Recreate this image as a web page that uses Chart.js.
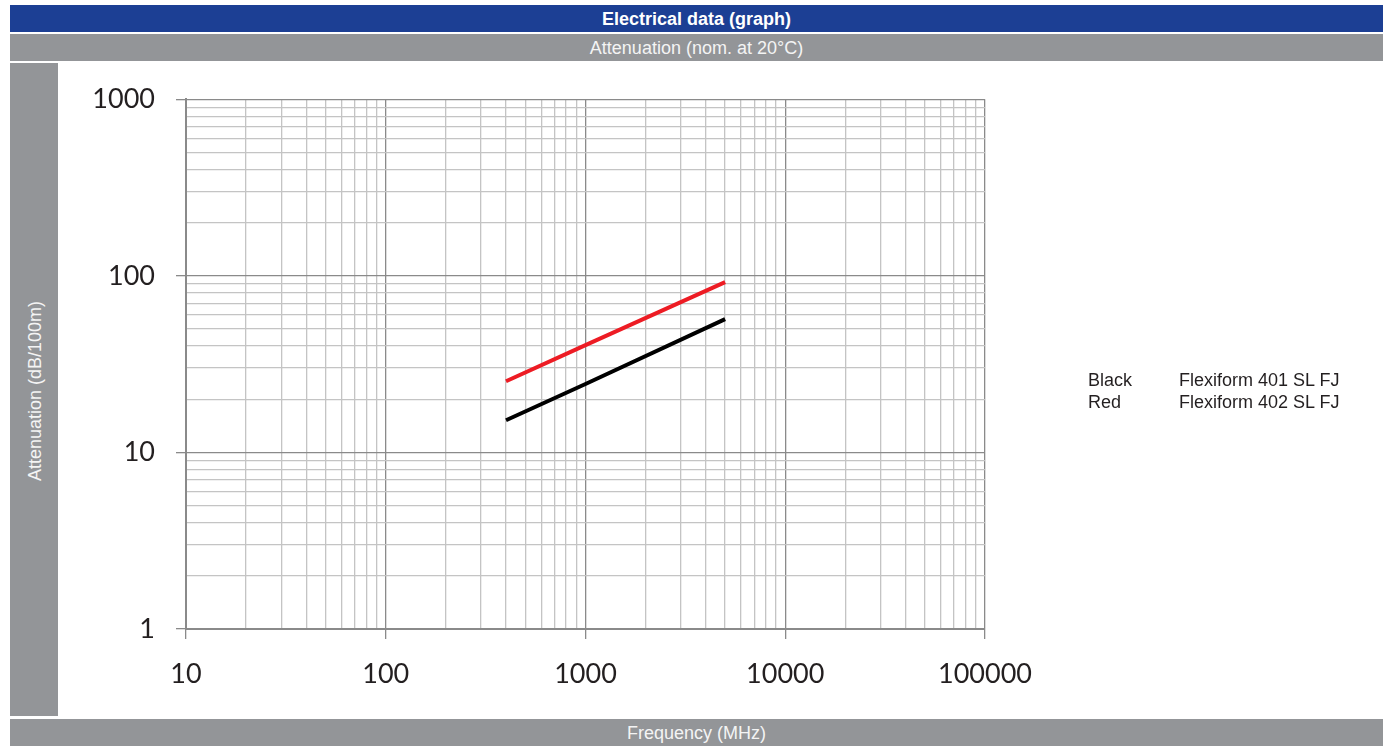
<!DOCTYPE html>
<html>
<head>
<meta charset="utf-8">
<script src="https://cdn.jsdelivr.net/npm/chart.js@4"></script>
<style>
  body { margin: 0; background: #fff; width: 1389px; height: 747px; position: relative; overflow: hidden; font-family: "Liberation Sans", Arial, sans-serif; }
  .bar { position: absolute; color: #fff; text-align: center; font-size: 18px; }
  #head { left: 10px; top: 5px; width: 1373px; height: 27px; line-height: 28px; background: #1c3f94; font-weight: bold; }
  #sub { left: 10px; top: 34px; width: 1373px; height: 27px; line-height: 28px; background: #939598; color: #f4f4f4; }
  #side { left: 10px; top: 63px; width: 48px; height: 653px; background: #939598; color: #f4f4f4; }
  #side span { position: absolute; left: 25px; top: 328px; transform: translate(-50%, -50%) rotate(-90deg); white-space: nowrap; }
  #foot { left: 10px; top: 719px; width: 1373px; height: 27px; line-height: 28px; background: #939598; color: #f4f4f4; }
  #wrap { position: absolute; left: 58px; top: 62px; width: 1325px; height: 656px; }
  .leg { position: absolute; font-size: 18px; color: #231f20; line-height: 22px; }
</style>
</head>
<body>
<div class="bar" id="head">Electrical data (graph)</div>
<div class="bar" id="sub">Attenuation (nom. at 20°C)</div>
<div class="bar" id="side"><span>Attenuation (dB/100m)</span></div>
<div class="bar" id="foot">Frequency (MHz)</div>
<div id="wrap"><canvas id="chart" width="1325" height="656"></canvas></div>
<div class="leg" id="legNames" style="left:1088px; top:369px;"></div>
<div class="leg" id="legLabels" style="left:1179px; top:369px;"></div>
<script>
// frequencies in MHz
let freqs = [400, 1000, 5000];

// attenuation dB/100m
let black401 = [15.2, 24.4, 56.8];
let red402 = [25.3, 40.5, 92];

let seriesNames = ['Black', 'Red'];
let seriesLabels = ['Flexiform 401 SL FJ', 'Flexiform 402 SL FJ'];

// decade tick labels
let xDecades = [10, 100, 1000, 10000, 100000];
let yDecades = [1, 10, 100, 1000];

document.querySelector('#legNames').innerHTML = seriesNames.join('<br>');
document.querySelector('#legLabels').innerHTML = seriesLabels.join('<br>');

let toPoints = (vals) => freqs.map((f, i) => ({ x: f, y: vals[i] }));

// 1..9 steps within each decade for the grid
let logTicks = (decades) => {
  let out = [];
  decades.forEach((d, i) => {
    if (i === decades.length - 1) { out.push(d); return; }
    for (let k = 1; k < 10; k++) out.push(d * k);
  });
  return out;
};

let gridColor = (decades) => (ctx) => decades.includes(ctx.tick && ctx.tick.value) ? '#8a8a8a' : '#c4c4c4';
let tickColor = (decades) => (ctx) => decades.includes(ctx.tick && ctx.tick.value) ? '#8a8a8a' : 'rgba(0,0,0,0)';

let context = document.querySelector('#chart').getContext('2d');

let chart = new Chart(context, {
  type: 'line',
  data: {
    datasets: [
      { label: seriesLabels[0], data: toPoints(black401), borderColor: '#000000', borderWidth: 4, pointRadius: 0, fill: false },
      { label: seriesLabels[1], data: toPoints(red402), borderColor: '#ed1c24', borderWidth: 4, pointRadius: 0, fill: false },
    ],
  },
  options: {
    responsive: false,
    animation: false,
    layout: { padding: { top: 37, right: 398, left: 0, bottom: 0 } },
    plugins: { legend: { display: false }, tooltip: { enabled: false } },
    scales: {
      x: {
        type: 'logarithmic',
        min: 10,
        max: 100000,
        afterBuildTicks: (scale) => { scale.ticks = logTicks(xDecades).map((v) => ({ value: v })); },
        afterFit: (scale) => { scale.height = 89; },
        grid: { color: gridColor(xDecades), tickColor: tickColor(xDecades), lineWidth: 1.3, tickLength: 10 },
        border: { color: '#8a8a8a', width: 2 },
        ticks: {
          autoSkip: false,
          maxRotation: 0,
          padding: 19,
          color: '#231f20',
          font: { family: 'Lato', size: 27 },
          callback: (v) => xDecades.includes(v) ? String(v) : '',
        },
      },
      y: {
        type: 'logarithmic',
        min: 1,
        max: 1000,
        afterBuildTicks: (scale) => { scale.ticks = logTicks(yDecades).map((v) => ({ value: v })); },
        afterFit: (scale) => { scale.width = 128; },
        grid: { color: gridColor(yDecades), tickColor: tickColor(yDecades), lineWidth: 1.3, tickLength: 10 },
        border: { color: '#8a8a8a', width: 2 },
        ticks: {
          autoSkip: false,
          padding: 21,
          color: '#231f20',
          font: { family: 'Lato', size: 27 },
          callback: (v) => yDecades.includes(v) ? String(v) : '',
        },
      },
    },
  },
});
</script>
</body>
</html>
